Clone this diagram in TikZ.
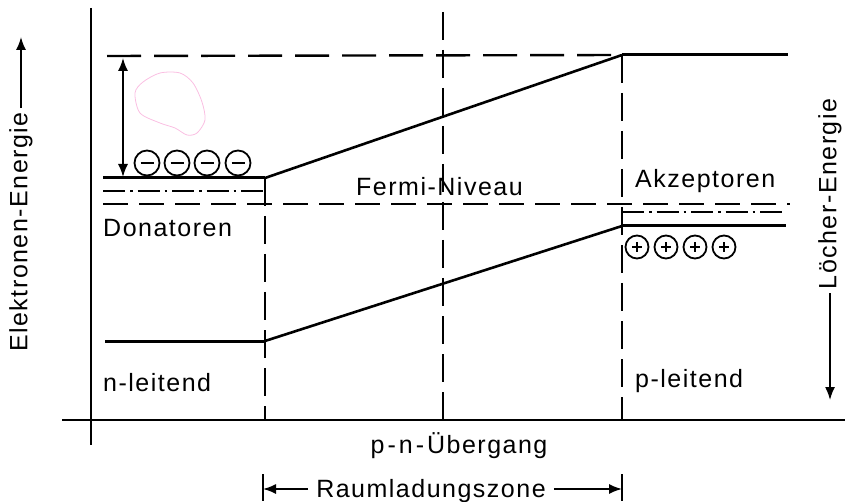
\documentclass[tikz,border=0pt]{standalone}
\usepackage{fontspec}
\setmainfont{Liberation Sans}[LetterSpace=6]
\usetikzlibrary{arrows.meta}

\begin{document}
\begin{tikzpicture}[x=1pt, y=-1pt,
  band/.style={line width=3pt},
  axis/.style={line width=2.2pt},
  slope/.style={line width=2.6pt},
  topdash/.style={line width=2.4pt, dash pattern=on 34pt off 13pt},
  fermi/.style={line width=2.2pt, dash pattern=on 25pt off 11pt},
  dashdot/.style={line width=2.2pt, dash pattern=on 22pt off 5pt on 2.5pt off 5pt},
  vdash/.style={line width=2.2pt, dash pattern=on 28pt off 10pt},
  lbl/.style={font=\fontsize{25}{28}\selectfont, inner sep=0pt},
  arr/.style={-{Latex[length=13pt,width=10pt]}, line width=1.6pt},
  chg/.style={circle, draw, line width=1.8pt, minimum size=25pt, inner sep=0pt},
  minus/.style={path picture={\draw[line width=1.8pt] (path picture bounding box.center) +(-6.5pt,0pt) -- +(6.5pt,0pt);}},
  plus/.style={path picture={\draw[line width=1.6pt] (path picture bounding box.center) +(-5pt,0pt) -- +(5pt,0pt) +(0pt,-5pt) -- +(0pt,5pt);}}
]
  \useasboundingbox (0,0) rectangle (845,502);

  \coordinate (ytop) at (91,8);
  \coordinate (ybot) at (91,445);
  \coordinate (xl) at (62,420);
  \coordinate (xr) at (845,420);
  \draw[axis] (ytop) -- (ybot);
  \draw[axis] (xl) -- (xr);

  \coordinate (nc) at (103,178);
  \coordinate (nc2) at (265,178);
  \coordinate (pc) at (622,55);
  \coordinate (pc2) at (788,55);
  \coordinate (nv) at (105,341);
  \coordinate (nv2) at (265,341);
  \coordinate (pv) at (622,226);
  \coordinate (pv2) at (786,226);
  \draw[band] (nc) -- (nc2);
  \draw[slope] (nc2) -- (pc);
  \draw[band] (pc) -- (pc2);
  \draw[band] (nv) -- (nv2);
  \draw[slope] (nv2) -- (pv);
  \draw[band] (pv) -- (pv2);

  \coordinate (t1) at (107,56);
  \draw[topdash] (t1) -- (pc);
  \coordinate (d1) at (103,191);
  \coordinate (d2) at (265,191);
  \draw[dashdot] (d1) -- (d2);
  \coordinate (f1) at (103,204);
  \coordinate (f2) at (790,204);
  \draw[fermi] (f1) -- (f2);
  \coordinate (a1) at (622,212);
  \coordinate (a2) at (785,212);
  \draw[dashdot] (a1) -- (a2);

  \coordinate (n0) at (265,420);
  \coordinate (p0) at (622,420);
  \coordinate (m0) at (443,420);
  \coordinate (mtop) at (443,12);
  \draw[vdash] (nc2) -- (n0);
  \draw[vdash] (pc) -- (p0);
  \draw[vdash] (mtop) -- (m0);

  \coordinate (g1) at (123,58);
  \coordinate (g2) at (123,177);
  \draw[arr, {Latex[length=13pt,width=10pt]}-{Latex[length=13pt,width=10pt]}] (g1) -- (g2);

  \foreach \i/\x in {1/147,2/177,3/207,4/238}
    \node[chg, minus] (m\i) at (\x,163) {};
  \foreach \i/\x in {1/637,2/666,3/695,4/724}
    \node[chg, plus, minimum size=23pt] (p\i) at (\x,247) {};

  \node[lbl, anchor=base west] (don) at (103,237) {Donatoren};
  \node[lbl, anchor=base west] (akz) at (635,188) {Akzeptoren};
  \node[lbl, anchor=base west] (fermi) at (356,196) {Fermi-Niveau};
  \node[lbl, anchor=base west] (nl) at (103,391) {n-leitend};
  \node[lbl, anchor=base west] (pl) at (635,387) {p-leitend};
  \node[lbl, anchor=base] (pn) at (459,453) {p\kern3pt-\kern3pt n\kern3pt-\kern3pt Übergang};

  \node[lbl, anchor=base, inner xsep=8pt] (rz) at (431,497) {Raumladungszone};
  \coordinate (zl) at (263,489);
  \coordinate (zr) at (622,489);
  \coordinate (zl1) at (263,474);
  \coordinate (zl2) at (263,501);
  \coordinate (zr1) at (622,474);
  \coordinate (zr2) at (622,501);
  \draw[axis] (zl1) -- (zl2);
  \draw[axis] (zr1) -- (zr2);
  \draw[arr] (rz.west |- zl) -- (zl);
  \draw[arr] (rz.east |- zr) -- (zr);

  \node[lbl, rotate=90, inner xsep=4pt] (ee) at (21,232) {Elektronen-Energie};
  \coordinate (eetip) at (21,37);
  \draw[arr] (ee.east) -- (eetip);
  \node[lbl, rotate=90, inner xsep=4pt] (le) at (830,194) {Löcher-Energie};
  \coordinate (letip) at (830,400);
  \draw[arr] (le.west) -- (letip);

  \draw[magenta!25, line width=0.8pt] plot[smooth cycle] coordinates
    {(135,93) (143,82) (160,73) (180,73) (193,83) (202,102) (205,120) (197,133) (187,135) (175,128) (160,123) (140,113)};
\end{tikzpicture}
\end{document}
